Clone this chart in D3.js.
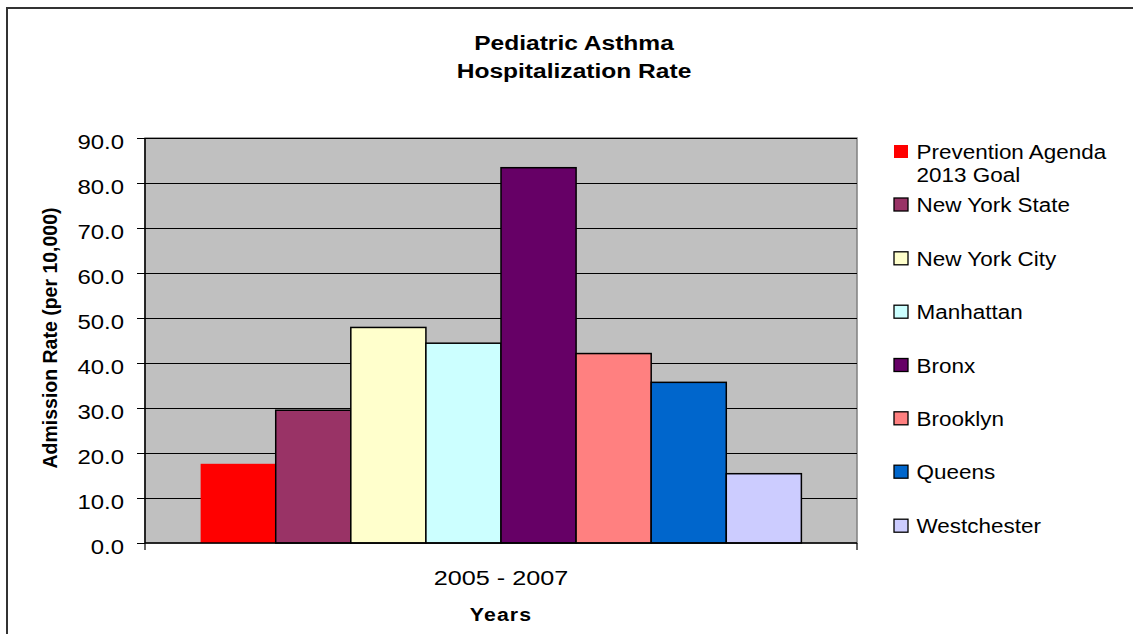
<!DOCTYPE html>
<html>
<head>
<meta charset="utf-8">
<script src="https://cdn.jsdelivr.net/npm/d3@7"></script>
<style>
  html, body { margin: 0; padding: 0; background: #fff; }
  svg { display: block; font-family: "Liberation Sans", Arial, Helvetica, sans-serif; }
</style>
</head>
<body>
<svg id="chart" width="1133" height="634"></svg>
<script>
// ---- data ----
const category = "2005 - 2007";
const seriesNames = ["Prevention Agenda 2013 Goal", "New York State", "New York City", "Manhattan", "Bronx", "Brooklyn", "Queens", "Westchester"];
const seriesValues = [17.6, 29.5, 47.9, 44.4, 83.4, 42.1, 35.7, 15.4];
const seriesColors = ["#FF0000", "#993366", "#FFFFCC", "#CCFFFF", "#660066", "#FF8080", "#0066CC", "#CCCCFF"];
const yTicks = [0, 10, 20, 30, 40, 50, 60, 70, 80, 90];
const titleLines = ["Pediatric Asthma", "Hospitalization Rate"];
const yTitle = "Admission Rate (per 10,000)";
const xTitle = "Years";
const legendLines = [["Prevention Agenda", "2013 Goal"], ["New York State"], ["New York City"], ["Manhattan"], ["Bronx"], ["Brooklyn"], ["Queens"], ["Westchester"]];

// ---- layout ----
const svg = d3.select("#chart");
const plot = { left: 145, right: 857, top: 138, bottom: 543 };

// chart border
svg.append("rect").attr("x", 7).attr("y", 8).attr("width", 1200).attr("height", 700)
  .attr("fill", "none").attr("stroke", "#333").attr("stroke-width", 2);

const y = d3.scaleLinear().domain([0, 90]).range([plot.bottom, plot.top]);
const x0 = d3.scaleBand().domain([category]).range([plot.left, plot.right]).paddingInner(0).paddingOuter(0.0926);
const x1 = d3.scaleBand().domain(seriesNames).range([0, x0.bandwidth()]).padding(0);

// plot area background
svg.append("rect").attr("x", plot.left).attr("y", plot.top)
  .attr("width", plot.right - plot.left).attr("height", plot.bottom - plot.top)
  .attr("fill", "#C0C0C0").attr("stroke", "#808080").attr("stroke-width", 1.5);

// gridlines
svg.append("g").selectAll("line").data(yTicks.filter(d => d > 0)).join("line")
  .attr("x1", plot.left).attr("x2", plot.right)
  .attr("y1", d => Math.round(y(d)) + 0.5).attr("y2", d => Math.round(y(d)) + 0.5)
  .attr("stroke", "#000").attr("stroke-width", 1);

// bars
svg.append("g").selectAll("rect").data(seriesNames.map((n, i) => ({ n, v: seriesValues[i], c: seriesColors[i], i })))
  .join("rect")
  .attr("x", d => x0(category) + x1(d.n))
  .attr("y", d => y(d.v))
  .attr("width", x1.bandwidth())
  .attr("height", d => y(0) - y(d.v))
  .attr("fill", d => d.c)
  .attr("stroke", d => d.i === 0 ? "none" : "#000")
  .attr("stroke-width", 1.5);

// y axis
const yAxis = d3.axisLeft(y).tickValues(yTicks).tickSize(8).tickPadding(0).tickFormat(d3.format(".1f"));
const gy = svg.append("g").attr("transform", `translate(${plot.left},0)`).call(yAxis);
gy.select(".domain").attr("stroke", "#000").attr("stroke-width", 1.5).attr("d", `M0,${plot.top}V${plot.bottom}`);
gy.selectAll(".tick line").attr("stroke", "#000");
gy.selectAll(".tick text").remove();
gy.selectAll(".tick").append("text")
  .attr("transform", `translate(-21,10) scale(1.14,1)`)
  .attr("text-anchor", "end")
  .attr("fill", "#000")
  .style("font-size", "21px")
  .text(d => d3.format(".1f")(d));

// x axis
const gx = svg.append("g").attr("transform", `translate(0,${plot.bottom})`);
gx.append("line").attr("x1", plot.left).attr("x2", plot.right).attr("y1", 0).attr("y2", 0)
  .attr("stroke", "#000").attr("stroke-width", 1.5);
gx.selectAll("line.edge").data([x0(category) - x0.step() * x0.paddingOuter(), x0(category) + x0.bandwidth() + x0.step() * x0.paddingOuter()])
  .join("line").attr("class", "edge")
  .attr("x1", d => d).attr("x2", d => d).attr("y1", 0).attr("y2", 7)
  .attr("stroke", "#000").attr("stroke-width", 1.2);
gx.append("text")
  .attr("transform", `translate(${x0(category) + x0.bandwidth() / 2},42) scale(1.2,1)`)
  .attr("text-anchor", "middle").style("font-size", "21px").attr("fill", "#000")
  .text(category);

// titles
svg.append("g").selectAll("text").data(titleLines).join("text")
  .attr("transform", (d, i) => `translate(574,${50 + i * 28}) scale(1.17,1)`)
  .attr("text-anchor", "middle").style("font-size", "21px").style("font-weight", "bold")
  .text(d => d);

svg.append("text")
  .attr("transform", `translate(57,338) rotate(-90) scale(1,1.07)`)
  .attr("text-anchor", "middle").style("font-size", "19.5px").style("font-weight", "bold")
  .text(yTitle);

svg.append("text")
  .attr("transform", `translate(501,621) scale(1.15,1)`)
  .attr("text-anchor", "middle").style("font-size", "18.5px").style("font-weight", "bold")
  .style("letter-spacing", "1px")
  .text(xTitle);

// legend
const legendRowY = [151.5, 204.5, 258.3, 311.7, 365, 418.3, 471.7, 525.7];
const lg = svg.append("g").selectAll("g").data(seriesNames).join("g")
  .attr("transform", (d, i) => `translate(894,${legendRowY[i]})`);
lg.append("rect").attr("x", 0).attr("y", -6.5).attr("width", 14).attr("height", 13)
  .attr("fill", (d, i) => seriesColors[i])
  .attr("stroke", (d, i) => i === 0 ? "none" : "#000").attr("stroke-width", 1.3);
lg.each(function (d, i) {
  d3.select(this).selectAll("text").data(legendLines[i]).join("text")
    .attr("transform", (t, j) => `translate(22.5,${7.5 + j * 23}) scale(1.07,1)`)
    .style("font-size", "21px").attr("fill", "#000")
    .text(t => t);
});
</script>
</body>
</html>
